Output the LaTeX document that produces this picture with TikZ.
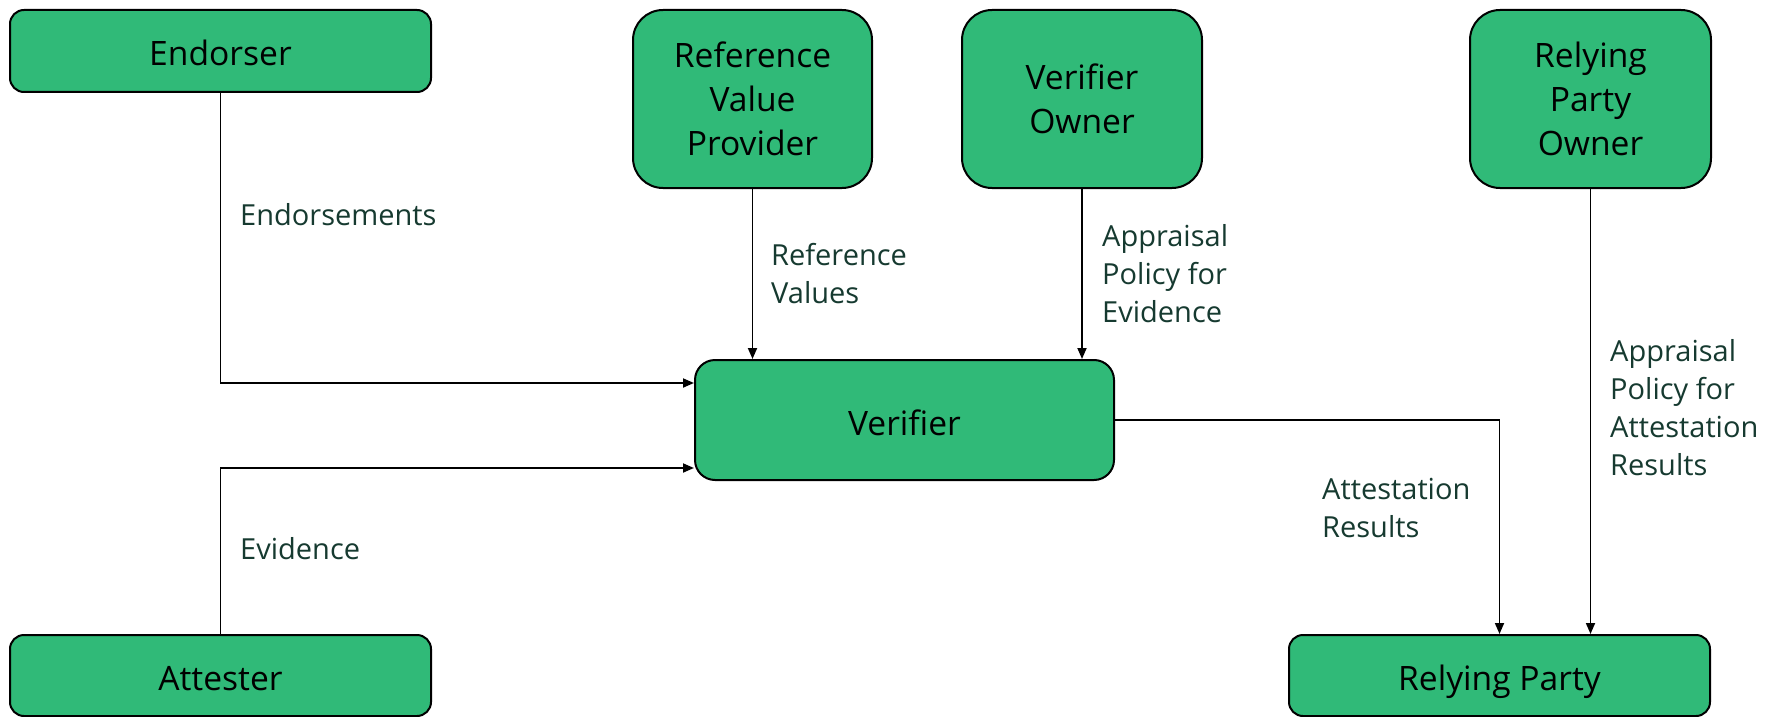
\documentclass[tikz,border=0pt]{standalone}
\usepackage{fontspec}
\setmainfont{Open Sans}
\usetikzlibrary{arrows.meta,calc}
\definecolor{boxgreen}{RGB}{48,186,120}
\definecolor{labelink}{RGB}{22,58,48}
\tikzset{
  role/.style={draw=black, line width=2pt, fill=boxgreen, rectangle,
    rounded corners=#1, inner sep=0pt, align=center, text=black,
    font=\fontsize{33.6}{44}\selectfont},
  role/.default=14pt,
  oneline/.style={text height=30pt, text depth=0pt},
  flow/.style={draw=black, line width=1.8pt,
    -{Triangle[length=11pt,width=9pt]}},
  flowlabel/.style={inner sep=0pt, anchor=west, align=left, text=labelink,
    font=\fontsize{29}{38}\selectfont}
}
\begin{document}
\begin{tikzpicture}[x=1pt,y=-1pt]
\useasboundingbox (0,0) rectangle (1765,717);

% actors
\node[role, oneline, minimum width=421pt, minimum height=82pt] (endorser) at (220.5,51) {Endorser};
\node[role=30pt, minimum width=239pt, minimum height=178pt] (rvp) at (752.5,99) {Reference\\Value\\Provider};
\node[role=30pt, minimum width=240pt, minimum height=178pt] (vowner) at (1082,99) {Verifier\\Owner};
\node[role=30pt, minimum width=241pt, minimum height=178pt] (rpowner) at (1590.5,99) {Relying\\Party\\Owner};
\node[role=20pt, oneline, minimum width=419pt, minimum height=120pt] (verifier) at (904.5,420) {Verifier};
\node[role, oneline, minimum width=421pt, minimum height=81pt] (attester) at (220.5,675.5) {Attester};
\node[role, oneline, minimum width=421pt, minimum height=81pt] (rparty) at (1499.5,675.5) {Relying Party};

% conveyance of artefacts
\draw[flow] (endorser.south) |- ([yshift=37pt]verifier.west);
\draw[flow] (attester.north) |- ([yshift=-48pt]verifier.west);
\draw[flow] (rvp.south) -- (rvp.south |- verifier.north);
\draw[flow] (vowner.south) -- (vowner.south |- verifier.north);
\draw[flow] (verifier.east) -| (rparty.north);
\draw[flow] (rpowner.south) -- (rpowner.south |- rparty.north);

% artefact names
\node[flowlabel] (lend) at (240,215) {Endorsements};
\node[flowlabel] (lref) at (771,273.5) {Reference\\Values};
\node[flowlabel] (lape) at (1102,274) {Appraisal\\Policy for\\Evidence};
\node[flowlabel] (lapr) at (1610,407.5) {Appraisal\\Policy for\\Attestation\\Results};
\node[flowlabel] (lres) at (1322,507.5) {Attestation\\Results};
\node[flowlabel] (lev) at (240,549) {Evidence};
\end{tikzpicture}
\end{document}
